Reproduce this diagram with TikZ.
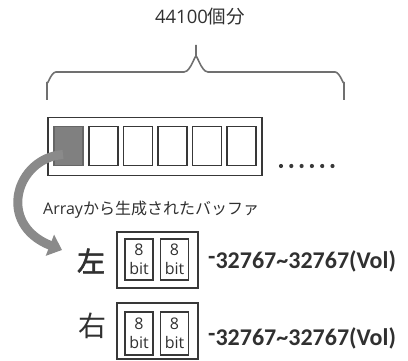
\documentclass[tikz,border=0pt]{standalone}
\usepackage{fontspec}
\setmainfont{Open Sans}
\newfontfamily\jpfont{Noto Sans CJK JP}
\newfontfamily\jpbold[FakeBold=1.8]{Noto Sans CJK JP}
\newfontfamily\calfont{Carlito}
\usetikzlibrary{arrows.meta,calc}
\definecolor{linec}{HTML}{383838}
\definecolor{txtc}{HTML}{303030}
\definecolor{cellfill}{HTML}{808080}
\definecolor{arrowc}{HTML}{8A8A8A}
\definecolor{bracec}{HTML}{707070}
\begin{document}
\begin{tikzpicture}[x=1pt,y=-1pt,
  cell/.style={draw=linec, line width=1.5pt, minimum width=29pt, minimum height=39pt, inner sep=0pt, anchor=north west},
  outerbox/.style={draw=linec, line width=1.5pt, inner sep=0pt},
  bitbox/.style={draw=linec, line width=1.4pt, minimum width=28pt, minimum height=41pt, inner sep=0pt, align=center, font=\fontsize{16}{19}\selectfont, text=txtc},
  side/.style={font=\jpfont\fontsize{28}{30}\selectfont, text=txtc, inner sep=0pt},
  rangetxt/.style={font=\calfont\bfseries\fontsize{24}{26}\selectfont, text=txtc, anchor=west, inner sep=0pt},
  dot/.style={circle, fill=linec, minimum size=4.2pt, inner sep=0pt}
]
\useasboundingbox (0,0) rectangle (408,361);

% top label
\node[text=txtc, inner sep=0pt] (count) at (200,17) {\fontsize{18.5}{21}\selectfont 44100{\jpfont 個分}};

% brace
\draw[bracec, line width=1.6pt] (47,100) -- (47,82) to[out=-90,in=180] (56,72) -- (184,72) to[out=0,in=90] (196,58) -- (196,45);
\draw[bracec, line width=1.6pt] (196,58) to[out=90,in=180] (208,72) -- (335,72) to[out=0,in=-90] (344,82) -- (344,100);

% array
\node[outerbox, minimum width=214pt, minimum height=58pt, anchor=north west] (arr) at (47,117) {};
\node[cell, fill=cellfill, draw=cellfill!80!black] (c0) at (53,126) {};
\node[cell] (c1) at (88,126) {};
\node[cell] (c2) at (122.5,126) {};
\node[cell] (c3) at (157,126) {};
\node[cell] (c4) at (191.5,126) {};
\node[cell] (c5) at (226,126) {};
\foreach \i in {0,...,5} \node[dot] (d\i) at (281+10.3*\i,166) {};

% caption
\node[anchor=west, text=txtc, inner sep=0pt] (cap) at (43,210) {\fontsize{16}{18}\selectfont Array{\jpfont から生成されたバッファ}};

% left channel
\node[side, font=\jpbold\fontsize{28}{30}\selectfont] (L) at (91,261) {左};
\node[outerbox, minimum width=81pt, minimum height=56pt] (lbox) at (157.5,260) {};
\node[bitbox] (lb1) at (139,259.5) {8\\bit};
\node[bitbox] (lb2) at (174.5,259.5) {8\\bit};
\node[rangetxt] (lr) at (208,261) {\raisebox{4pt}{-}32767\textasciitilde32767(Vol)};

% right channel
\node[side] (R) at (92,326) {右};
\node[outerbox, minimum width=81pt, minimum height=56pt] (rbox) at (157.5,331) {};
\node[bitbox, minimum height=43pt] (rb1) at (139,333.5) {8\\bit};
\node[bitbox, minimum height=43pt] (rb2) at (174.5,333.5) {8\\bit};
\node[rangetxt] (rr) at (208,338) {\raisebox{4pt}{-}32767\textasciitilde32767(Vol)};

% curved arrow
\coordinate (as) at ($(c0.south west)+(10,-12)$);
\coordinate (ae) at (62,250);
\draw[arrowc, line width=9pt, -{Triangle[length=13pt,width=22pt]}] (as) .. controls (16,158) and (-4,224) .. (ae);
\end{tikzpicture}
\end{document}
